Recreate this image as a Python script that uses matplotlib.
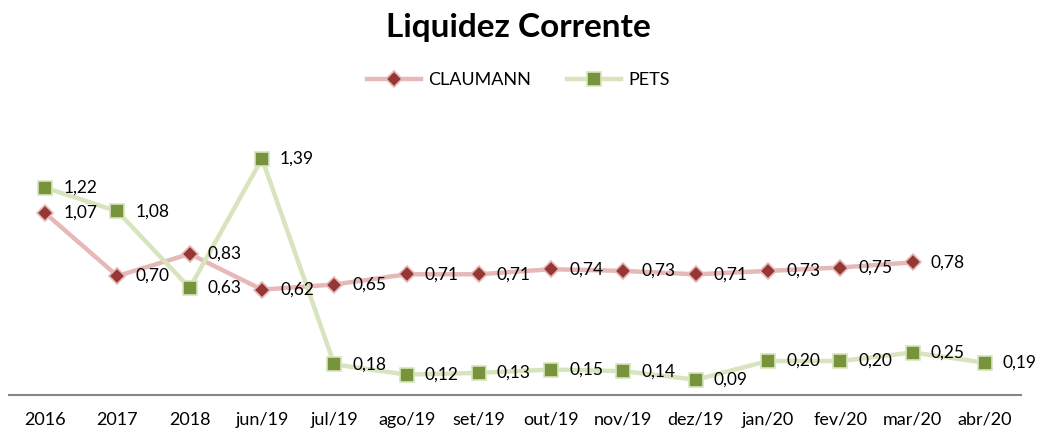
import matplotlib.pyplot as plt

plt.rcParams['font.family'] = ['Lato', 'DejaVu Sans']

# Data
periods = ['2016', '2017', '2018', 'jun/19', 'jul/19', 'ago/19', 'set/19',
           'out/19', 'nov/19', 'dez/19', 'jan/20', 'fev/20', 'mar/20', 'abr/20']
claumann = [1.07, 0.70, 0.83, 0.62, 0.65, 0.71, 0.71, 0.74, 0.73, 0.71, 0.73, 0.75, 0.78, None]
pets = [1.22, 1.08, 0.63, 1.39, 0.18, 0.12, 0.13, 0.15, 0.14, 0.09, 0.20, 0.20, 0.25, 0.19]

fig = plt.figure(figsize=(10.37, 4.32), dpi=100)
ax = fig.add_axes([9 / 1037, 37 / 432, 1012 / 1037, 272 / 432])

x = list(range(len(periods)))

def plot_series(vals, name, line_c, mark_c, edge_c, marker, ms):
    xs = [i for i, v in zip(x, vals) if v is not None]
    ys = [v for v in vals if v is not None]
    ax.plot(xs, ys, color=line_c, lw=3.2, marker=marker, ms=ms,
            markerfacecolor=mark_c, markeredgecolor=edge_c, markeredgewidth=1.2,
            label=name, zorder=3)
    for xi, yi in zip(xs, ys):
        ax.annotate(f'{yi:.2f}'.replace('.', ','), (xi, yi), xytext=(13, 0),
                    textcoords='offset points', ha='left', va='center',
                    fontsize=12.5, color='black', zorder=4, annotation_clip=False)

plot_series(claumann, 'CLAUMANN', '#E6B9B8', '#953735', '#E6B9B8', 'D', 8)
plot_series(pets, 'PETS', '#D7E4BD', '#77933C', '#D7E4BD', 's', 10.5)

ax.set_xlim(-0.5, len(periods) - 0.5)
ax.set_ylim(0, 1.6)
ax.set_xticks(x)
ax.set_xticklabels(periods, fontsize=13)
ax.tick_params(axis='x', length=0, pad=12)
ax.set_yticks([])
for s in ['top', 'right', 'left']:
    ax.spines[s].set_visible(False)
ax.spines['bottom'].set_color('#868686')
ax.spines['bottom'].set_linewidth(1.5)

fig.text(0.5, 1 - 28 / 432, 'Liquidez Corrente', ha='center', va='center',
         fontsize=24, fontweight='bold')
fig.legend(loc='center', bbox_to_anchor=(0.5, 1 - 80 / 432), ncol=2,
           frameon=False, fontsize=13, handlelength=3, columnspacing=2.0,
           handletextpad=0.4)

fig.savefig('out.png', dpi=100)
